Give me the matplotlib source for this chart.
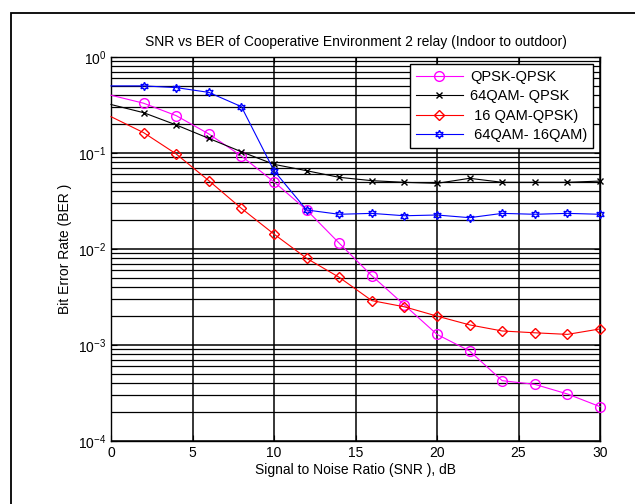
import matplotlib
matplotlib.use("Agg")
import matplotlib.pyplot as plt
from matplotlib.ticker import LogLocator, FixedLocator, FuncFormatter, NullFormatter
from matplotlib.patches import Rectangle
import numpy as np

plt.rcParams['font.family'] = ['Liberation Sans', 'DejaVu Sans']
plt.rcParams['mathtext.fontset'] = 'custom'
plt.rcParams['mathtext.rm'] = 'Liberation Sans'
plt.rcParams['mathtext.it'] = 'Liberation Sans'

snr = [0, 2, 4, 6, 8, 10, 12, 14, 16, 18, 20, 22, 24, 26, 28, 30]
qpsk_qpsk = [0.40, 0.33, 0.245, 0.158, 0.093, 0.050, 0.0255, 0.0115, 0.00527,
             0.00261, 0.00129, 0.000866, 0.000425, 0.000389, 0.000309, 0.000228]
qam64_qpsk = [0.32, 0.263, 0.196, 0.142, 0.103, 0.0762, 0.0654, 0.0558, 0.0515,
              0.0495, 0.0483, 0.0545, 0.0495, 0.0495, 0.0495, 0.051]
qam16_qpsk = [0.239, 0.163, 0.0977, 0.0515, 0.0265, 0.0143, 0.0080, 0.00507, 0.0029,
              0.0025, 0.0020, 0.00162, 0.0014, 0.00134, 0.00129, 0.00147]
qam64_qam16 = [0.50, 0.50, 0.48, 0.428, 0.304, 0.0654, 0.0255, 0.023, 0.0235,
               0.0222, 0.0226, 0.0212, 0.0235, 0.023, 0.0235, 0.023]
labels = ['QPSK-QPSK', '64QAM- QPSK', ' 16 QAM-QPSK)', ' 64QAM- 16QAM)']
title = 'SNR vs BER of Cooperative Environment 2 relay (Indoor to outdoor)'

fig = plt.figure(figsize=(6.35, 5.04), dpi=100)
fig.patches.append(Rectangle((11/635, -0.2), 1.0, 0.2 + (504-13)/504,
                             transform=fig.transFigure, fill=False,
                             edgecolor='black', linewidth=1.3))
ax = fig.add_axes([111/635, (504-441)/504, 489/635, 384/504])

me = slice(1, None)
ax.plot(snr, qpsk_qpsk, color='magenta', lw=0.8, marker='o', ms=7, mfc='none',
        mec='magenta', markevery=me, label=labels[0], clip_on=False, zorder=5)
ax.plot(snr, qam64_qpsk, color='black', lw=0.8, marker='x', ms=5,
        markevery=me, label=labels[1], clip_on=False, zorder=5)
ax.plot(snr, qam16_qpsk, color='red', lw=0.8, marker='D', ms=5.5, mfc='none',
        mec='red', markevery=me, label=labels[2], clip_on=False, zorder=5)
ax.plot(snr, qam64_qam16, color='blue', lw=0.8, marker=(6, 1, 0), ms=6, mfc='none',
        mec='blue', markevery=me, label=labels[3], clip_on=False, zorder=5)

ax.set_yscale('log')
ax.set_xlim(0, 30)
ax.set_ylim(1e-4, 1)
ax.xaxis.set_major_locator(FixedLocator([0, 5, 10, 15, 20, 25, 30]))
ax.yaxis.set_major_locator(FixedLocator([1e-4, 1e-3, 1e-2, 1e-1, 1]))
ax.yaxis.set_minor_locator(LogLocator(base=10, subs=np.arange(2, 10), numticks=20))
ax.yaxis.set_minor_formatter(NullFormatter())
ax.yaxis.set_major_formatter(FuncFormatter(lambda v, p: r'$\mathregular{10^{%d}}$' % int(round(np.log10(v)))))

ax.grid(True, which='major', axis='both', color='black', lw=1.1)
ax.grid(True, which='minor', axis='y', color='black', lw=0.9)
ax.set_axisbelow(True)
ax.tick_params(which='both', direction='in', top=True, right=True, labelsize=10)
ax.tick_params(which='major', length=4)
ax.tick_params(which='minor', length=2)
for s in ax.spines.values():
    s.set_linewidth(1.0)

ax.set_title(title, fontsize=10, pad=8)
ax.set_xlabel('Signal to Noise Ratio (SNR ), dB', fontsize=10, labelpad=2)
ax.set_ylabel('Bit Error Rate (BER )', fontsize=10, labelpad=4)

leg = ax.legend(loc='upper right', bbox_to_anchor=(0.9857, 0.982), borderaxespad=0,
                fontsize=10.5, frameon=True, fancybox=False, framealpha=1,
                edgecolor='black', handlelength=3.2, borderpad=0.4,
                labelspacing=0.38, handletextpad=0.5)
leg.get_frame().set_linewidth(1.0)

fig.savefig('out.png', dpi=100)
